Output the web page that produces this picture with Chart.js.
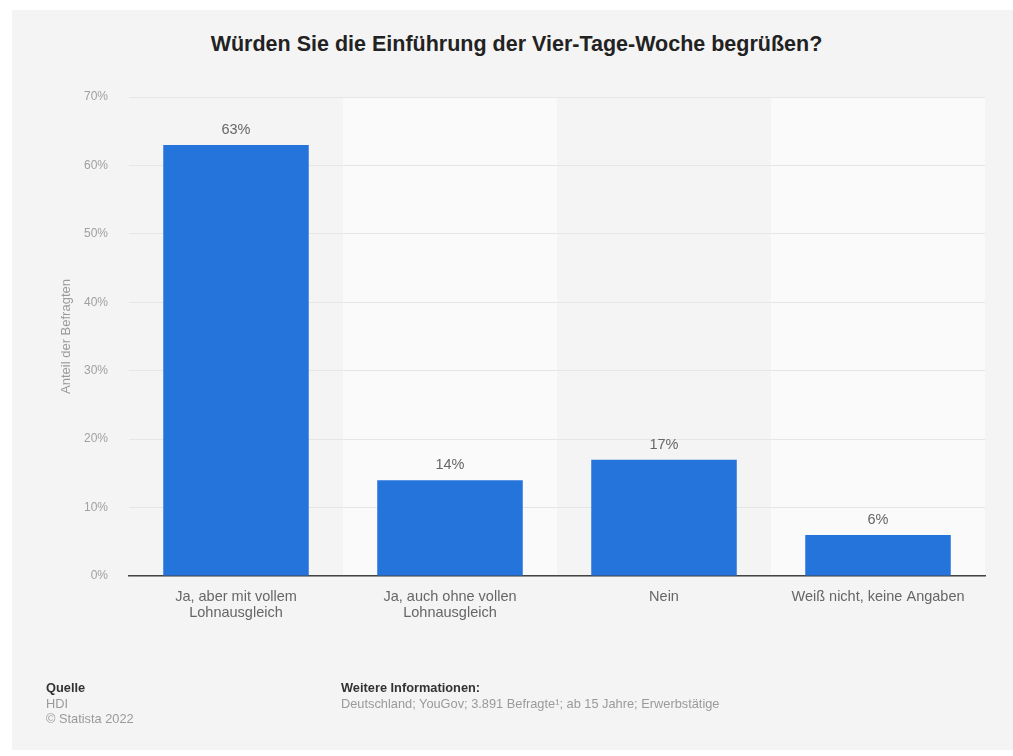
<!DOCTYPE html>
<html lang="de">
<head>
<meta charset="utf-8">
<script src="https://cdn.jsdelivr.net/npm/chart.js@4.4.1/dist/chart.umd.min.js"></script>
<style>
    html, body { margin: 0; padding: 0; background: #fff; }
    body { width: 1013px; height: 756px; position: relative; overflow: hidden; font-family: 'Liberation Sans', Arial, sans-serif; }
    #panel { position: absolute; left: 12px; top: 10px; right: 0; bottom: 6px; background: #f4f4f4; }
    #chart-wrap { position: absolute; left: 0; top: 0; width: 1013px; height: 756px; }
    #title { position: absolute; left: 10px; width: 1013px; top: 32px; text-align: center; font-size: 21.5px; font-weight: bold; color: #222; }
    .foot { position: absolute; font-size: 12.8px; line-height: 15.5px; color: #9a9a9a; }
    .foot b { color: #333; font-weight: bold; }
</style>
</head>
<body>
<div id="panel"></div>
<div id="title">Würden Sie die Einführung der Vier-Tage-Woche begrüßen?</div>
<div id="chart-wrap"><canvas id="survey-chart" width="1013" height="756"></canvas></div>
<div class="foot" style="left:46px; top:680px;"><b>Quelle</b><br>HDI<br>© Statista 2022</div>
<div class="foot" style="left:341px; top:680px;"><b>Weitere Informationen:</b><br>Deutschland; YouGov; 3.891 Befragte¹; ab 15 Jahre; Erwerbstätige</div>

<script>
// Werte aus der Grafik
const categories = [
    ['Ja, aber mit vollem', 'Lohnausgleich'],
    ['Ja, auch ohne vollen', 'Lohnausgleich'],
    'Nein',
    'Weiß nicht, keine Angaben'
];
const shares = [63, 14, 17, 6];
const yTicks = [0, 10, 20, 30, 40, 50, 60, 70];

// Alternating column backgrounds (2nd and 4th column lighter)
const columnBands = {
    id: 'columnBands',
    beforeDraw(chart) {
        const { ctx, chartArea, scales } = chart;
        const x = scales.x;
        const step = (chartArea.right - chartArea.left) / categories.length;
        ctx.save();
        ctx.fillStyle = '#fafafa';
        categories.forEach((c, i) => {
            if (i % 2 === 1) {
                const cx = x.getPixelForValue(i);
                ctx.fillRect(cx - step / 2, chartArea.top, step, chartArea.bottom - chartArea.top);
            }
        });
        ctx.restore();
    }
};

// Value labels above bars
const valueLabels = {
    id: 'valueLabels',
    afterDatasetsDraw(chart) {
        const { ctx } = chart;
        const meta = chart.getDatasetMeta(0);
        ctx.save();
        ctx.font = '14.5px "Liberation Sans", Arial, sans-serif';
        ctx.fillStyle = '#666';
        ctx.textAlign = 'center';
        ctx.textBaseline = 'middle';
        meta.data.forEach((bar, i) => {
            ctx.fillText(shares[i] + '%', bar.x, bar.y - 15);
        });
        ctx.restore();
    }
};

const ctx = document.getElementById('survey-chart').getContext('2d');
new Chart(ctx, {
    type: 'bar',
    data: {
        labels: categories,
        datasets: [{
            data: shares,
            backgroundColor: '#2574db',
            borderWidth: 0,
            categoryPercentage: 1,
            barPercentage: 0.68
        }]
    },
    options: {
        responsive: false,
        animation: false,
        events: [],
        layout: { padding: { left: 59, top: 97, right: 28, bottom: 120 } },
        plugins: {
            legend: { display: false },
            tooltip: { enabled: false }
        },
        scales: {
            x: {
                grid: { display: false, drawTicks: false },
                border: { color: '#444', width: 1.5 },
                ticks: {
                    color: '#666',
                    padding: 13,
                    maxRotation: 0,
                    font: { family: 'Liberation Sans', size: 14.5, lineHeight: 1.1 }
                },
                afterFit(scale) { scale.height = 60; }
            },
            y: {
                min: 0,
                max: 70,
                afterBuildTicks(scale) { scale.ticks = yTicks.map(v => ({ value: v })); },
                grid: { color: '#e6e6e6', lineWidth: 1, drawTicks: false },
                border: { display: false },
                ticks: {
                    color: '#a0a0a0',
                    padding: 21,
                    font: { family: 'Liberation Sans', size: 12 },
                    callback: v => v + '%'
                },
                title: {
                    display: true,
                    text: 'Anteil der Befragten',
                    color: '#9a9a9a',
                    padding: 0,
                    font: { family: 'Liberation Sans', size: 13 }
                },
                afterFit(scale) { scale.width = 70; }
            }
        }
    },
    plugins: [columnBands, valueLabels]
});
</script>
</body>
</html>
